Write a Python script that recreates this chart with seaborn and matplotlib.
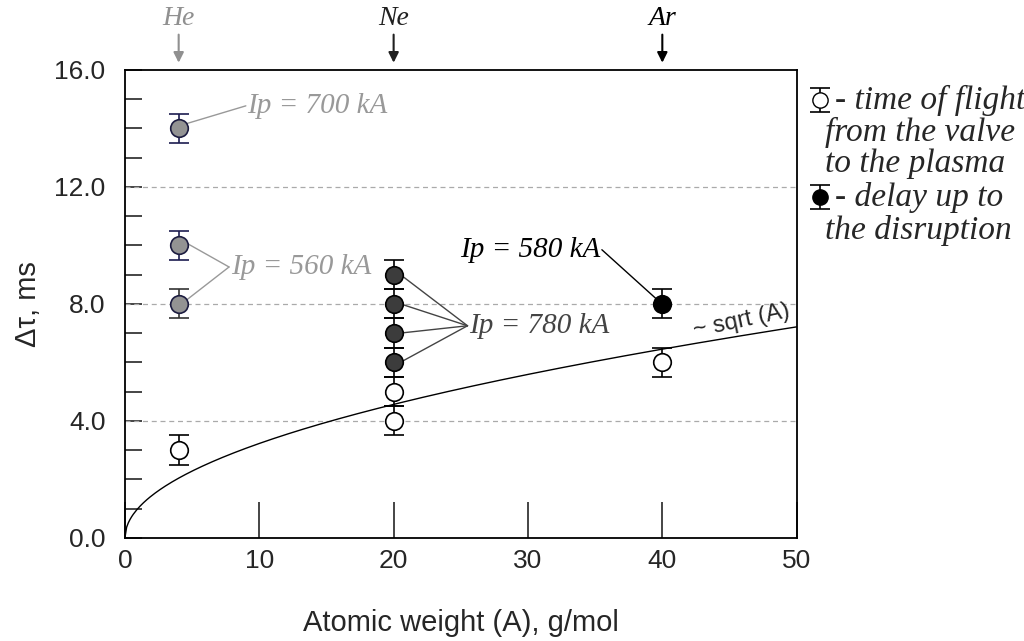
import numpy as np
import pandas as pd
import seaborn as sns
import matplotlib.pyplot as plt

# data
open_x = [4, 20, 20, 40]          # time of flight from valve to plasma
open_y = [3.0, 4.0, 5.0, 6.0]
he_x = [4, 4, 4]                  # He, delay up to disruption
he_y = [8.0, 10.0, 14.0]
ne_x = [20, 20, 20, 20]           # Ne
ne_y = [6.0, 7.0, 8.0, 9.0]
ar_x = [40]                       # Ar
ar_y = [8.0]
err = 0.5
sqrt_k = 1.02                     # ~ sqrt(A) fit

gases = ['He', 'Ne', 'Ar']
gas_x = [4, 20, 40]
gas_col = ['#909090', '#202020', '#000000']

sns.set_style("ticks")
plt.rcParams['font.family'] = ['Liberation Sans', 'DejaVu Sans']
serif = ['Liberation Serif', 'DejaVu Serif']

fig = plt.figure(figsize=(10.24, 6.41), dpi=100)
ax = fig.add_axes([0.122, 0.161, 0.656, 0.730])

# sqrt curve
A = np.linspace(0, 50, 400)
curve = pd.DataFrame({'A': A, 'tau': sqrt_k * np.sqrt(A)})
sns.lineplot(data=curve, x='A', y='tau', color='black', lw=1.0, ax=ax, zorder=2)

# error bars
eb_kw = dict(fmt='none', elinewidth=1.2, capsize=7, capthick=1.2, zorder=3)
ax.errorbar(open_x, open_y, yerr=err, ecolor='black', **eb_kw)
ax.errorbar(he_x[:1], he_y[:1], yerr=err, ecolor='#333333', **eb_kw)
ax.errorbar(he_x[1:], he_y[1:], yerr=err, ecolor='#1c1c50', **eb_kw)
ax.errorbar(ne_x, ne_y, yerr=err, ecolor='black', **eb_kw)
ax.errorbar(ar_x, ar_y, yerr=err, ecolor='black', **eb_kw)

# points
sns.scatterplot(x=open_x, y=open_y, color='white', edgecolor='black', s=160, linewidth=1.2, ax=ax, zorder=4)
sns.scatterplot(x=he_x, y=he_y, color='#939393', edgecolor='#1c1c40', s=160, linewidth=1.2, ax=ax, zorder=4)
sns.scatterplot(x=ne_x, y=ne_y, color='#3c3c3c', edgecolor='black', s=160, linewidth=1.2, ax=ax, zorder=4)
sns.scatterplot(x=ar_x, y=ar_y, color='black', edgecolor='black', s=160, linewidth=1.2, ax=ax, zorder=4)

# annotations
ann = dict(fontsize=21, style='italic', family=serif, va='center')
ax.text(9.1, 14.77, 'Ip = 700 kA', color='#999999', ha='left', **ann)
ax.plot([4.5, 9.0], [14.15, 14.77], color='#999999', lw=1.0, zorder=2)
ax.text(7.9, 9.26, 'Ip = 560 kA', color='#999999', ha='left', **ann)
for yv in he_y[:2]:
    ax.plot([4.5, 7.75], [yv + 0.1, 9.26], color='#999999', lw=1.0, zorder=2)
ax.text(25.6, 7.25, 'Ip = 780 kA', color='#444444', ha='left', **ann)
for yv in ne_y:
    ax.plot([20.5, 25.5], [yv, 7.25], color='#444444', lw=1.0, zorder=2)
ax.text(35.4, 9.85, 'Ip = 580 kA', color='black', ha='right', **ann)
ax.plot([35.5, 39.6], [9.85, 8.15], color='black', lw=1.0, zorder=2)
ax.text(45.9, 7.4, '~ sqrt (A)', fontsize=17, rotation=12, ha='center', va='center')

# gas labels with arrows on top
for g, gx, gc in zip(gases, gas_x, gas_col):
    ax.annotate('', xy=(gx, 16.15), xytext=(gx, 17.3), annotation_clip=False,
                arrowprops=dict(arrowstyle='-|>', color=gc, lw=1.5, mutation_scale=15))
    ax.text(gx, 17.75, g, color=gc, ha='center', va='center', fontsize=20,
            style='italic', family=serif, clip_on=False)

# axes styling
ax.set_xlim(0, 50)
ax.set_ylim(0, 16)
ax.set_xticks([0, 10, 20, 30, 40, 50])
ax.set_yticks([0, 4, 8, 12, 16])
ax.set_yticklabels(['0.0', '4.0', '8.0', '12.0', '16.0'])
ax.set_yticks(np.arange(0, 16, 1), minor=True)
ax.tick_params(axis='x', direction='in', length=26, width=1.2, labelsize=19, pad=8)
ax.tick_params(axis='y', which='both', direction='in', length=12, width=1.2, labelsize=19, pad=14)
for gy in [4, 8, 12]:
    ax.axhline(gy, color='#aaaaaa', lw=0.9, ls=(0, (4, 3)), zorder=1)
for s in ax.spines.values():
    s.set_linewidth(1.3)
    s.set_color('black')
ax.set_xlabel('Atomic weight (A), g/mol', fontsize=21, labelpad=26)
ax.set_ylabel('Δτ, ms', fontsize=21)
ax.yaxis.set_label_coords(-0.123, 0.5)

# legend drawn by hand
for ly, fc in [(14.97, 'white'), (11.66, 'black')]:
    eb = ax.errorbar([51.7], [ly], yerr=0.42, fmt='o', mfc=fc, mec='black', ms=11, ecolor='black',
                     elinewidth=1.2, capsize=7, capthick=1.2, zorder=5)
    for art in eb.get_children():
        art.set_clip_on(False)
leg = dict(fontsize=24, style='italic', family=serif, va='center', ha='left')
fig.text(0.815, 1 - 100 / 641, '- time of flight', **leg)
fig.text(0.806, 1 - 132 / 641, 'from the valve', **leg)
fig.text(0.806, 1 - 164 / 641, 'to the plasma', **leg)
fig.text(0.815, 1 - 197 / 641, '- delay up to', **leg)
fig.text(0.806, 1 - 230 / 641, 'the disruption', **leg)

fig.savefig('out.png', dpi=100)
